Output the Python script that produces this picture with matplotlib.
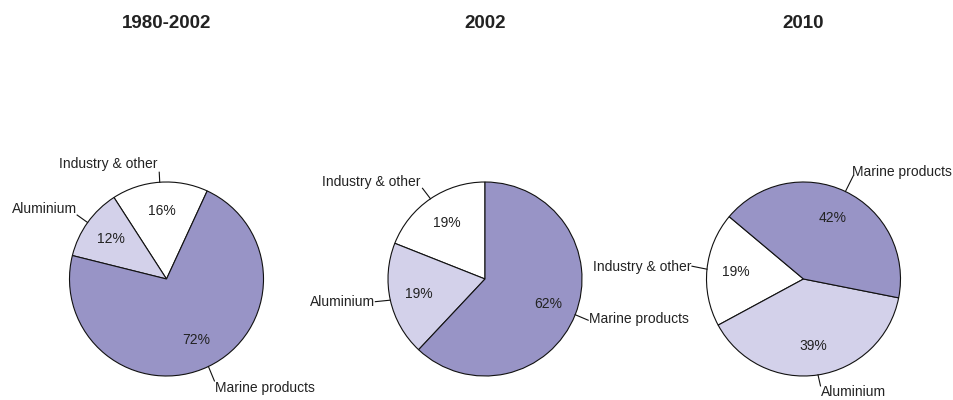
import matplotlib
matplotlib.use('Agg')
import matplotlib.pyplot as plt
import numpy as np

plt.rcParams['font.family'] = ['Liberation Sans', 'DejaVu Sans']

W, H = 954, 400

titles = ['1980-2002', '2002', '2010']
categories = ['Industry & other', 'Aluminium', 'Marine products']
shares_1980_2002 = [16, 12, 72]
shares_2002 = [19, 19, 62]
shares_2010 = [19, 39, 42]
all_shares = [shares_1980_2002, shares_2002, shares_2010]

colours = ['#ffffff', '#d3d1ea', '#9894c6']
txt_col = '#222222'

# pie placement in pixels (y measured from top)
centres = [(166.5, 279), (485, 279), (803.5, 279)]
radius = 97
start_angles = [65.2, 90, 140]

# leader line end and text anchor, as pixel offsets from the wedge edge
# (dx, dy down), plus horizontal alignment of the text
label_layout = [
    [((-0.5, -10), (-2.5, -18), 'right'),
     ((-10.5, -7.5), (-11, -13.5), 'right'),
     ((6, 14.5), (6.5, 21.5), 'left')],
    [((-8, -10.5), (-9.5, -16.5), 'right'),
     ((-15, 1.5), (-15.5, 1.8), 'right'),
     ((13, 5.5), (13.7, 4.5), 'left')],
    [((-15, -3), (-15.4, -2.6), 'right'),
     ((2.5, 11), (3, 17.5), 'left'),
     ((8, -16), (6.7, -19.5), 'left')],
]

fig = plt.figure(figsize=(W / 100, H / 100), dpi=100)
ax = fig.add_axes([0, 0, 1, 1])

for k, shares in enumerate(all_shares):
    cx, cy = centres[k]
    wedges, _, autotexts = ax.pie(
        shares, colors=colours, startangle=start_angles[k], counterclock=True,
        center=(cx, H - cy), radius=radius,
        autopct=lambda p: '%d%%' % round(p), pctdistance=0.7,
        wedgeprops=dict(edgecolor='#111111', linewidth=0.8))
    for t in autotexts:
        t.set_fontsize(10)
        t.set_color(txt_col)

    for w, name, (line_off, text_off, ha) in zip(wedges, categories, label_layout[k]):
        mid = np.radians((w.theta1 + w.theta2) / 2)
        ex = cx + radius * np.cos(mid)
        ey = (H - cy) + radius * np.sin(mid)
        ax.plot([ex, ex + line_off[0]], [ey, ey - line_off[1]],
                color='#111111', lw=0.8)
        ax.text(ex + text_off[0], ey - text_off[1], name, ha=ha, va='center',
                fontsize=10, color=txt_col)

    ax.text(cx, H - 24, titles[k], ha='center', va='center',
            fontsize=13.5, fontweight='bold', color=txt_col)

ax.set_xlim(0, W)
ax.set_ylim(0, H)
ax.axis('off')

fig.savefig('out.png', dpi=100, facecolor='white')
